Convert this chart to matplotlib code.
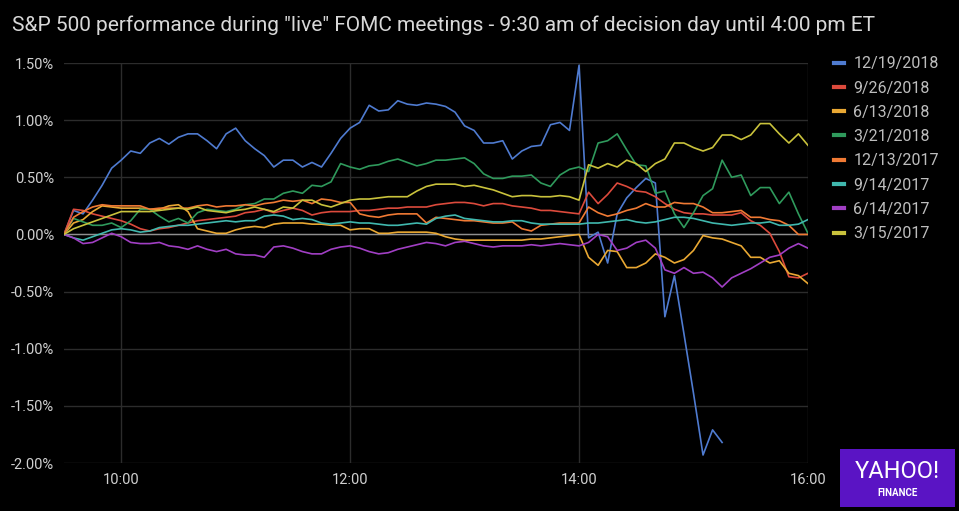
import matplotlib
matplotlib.use("Agg")
import matplotlib.pyplot as plt
import matplotlib.patches as mpatches
import pandas as pd

plt.rcParams["font.family"] = ["Roboto", "DejaVu Sans"]

# 5-minute bars, 9:30 to 16:00 ET
times = pd.date_range("2018-01-01 09:30", "2018-01-01 16:00", freq="5min")
hours = times.hour + times.minute / 60.0

labels = ["12/19/2018", "9/26/2018", "6/13/2018", "3/21/2018",
          "12/13/2017", "9/14/2017", "6/14/2017", "3/15/2017"]
colors = ["#4f7bd0", "#dc4a3c", "#e9a833", "#2f9a5c",
          "#f07a34", "#40b8ae", "#a13fc4", "#c9c23c"]

# % change from 9:30 open
dec_2018 = [
    0.00, 0.21, 0.18, 0.30, 0.43, 0.58, 0.65, 0.73, 0.71, 0.80,
    0.84, 0.79, 0.85, 0.88, 0.88, 0.82, 0.75, 0.88, 0.93, 0.82,
    0.75, 0.69, 0.59, 0.65, 0.65, 0.59, 0.63, 0.59, 0.71, 0.84,
    0.93, 0.98, 1.13, 1.08, 1.09, 1.17, 1.14, 1.13, 1.15, 1.14,
    1.12, 1.07, 0.95, 0.91, 0.80, 0.80, 0.82, 0.66, 0.73, 0.77,
    0.78, 0.96, 0.98, 0.91, 1.48, -0.03, 0.02, -0.25, 0.18, 0.32,
    0.41, 0.49, 0.45, -0.72, -0.36, -0.87, -1.39, -1.93, -1.71, -1.82,
]
sep_2018 = [
    0.00, 0.22, 0.21, 0.18, 0.16, 0.14, 0.12, 0.09, 0.05, 0.03,
    0.05, 0.06, 0.08, 0.10, 0.12, 0.13, 0.14, 0.15, 0.16, 0.19,
    0.20, 0.22, 0.19, 0.21, 0.23, 0.21, 0.17, 0.19, 0.20, 0.20,
    0.20, 0.21, 0.21, 0.22, 0.23, 0.23, 0.24, 0.24, 0.24, 0.26,
    0.27, 0.28, 0.28, 0.27, 0.25, 0.27, 0.27, 0.25, 0.24, 0.23,
    0.21, 0.21, 0.20, 0.19, 0.18, 0.37, 0.27, 0.35, 0.45, 0.42,
    0.38, 0.37, 0.33, 0.27, 0.22, 0.19, 0.18, 0.18, 0.17, 0.17,
    0.17, 0.19, 0.12, 0.08, 0.01, -0.15, -0.37, -0.38, -0.34,
]
jun_2018 = [
    0.00, 0.10, 0.13, 0.20, 0.25, 0.24, 0.23, 0.23, 0.23, 0.22,
    0.22, 0.25, 0.26, 0.20, 0.05, 0.03, 0.01, 0.01, 0.04, 0.06,
    0.07, 0.06, 0.09, 0.10, 0.10, 0.10, 0.09, 0.09, 0.08, 0.08,
    0.04, 0.05, 0.05, 0.01, 0.01, 0.02, 0.02, 0.02, 0.02, 0.01,
    -0.02, -0.04, -0.05, -0.05, -0.05, -0.05, -0.05, -0.05, -0.05, -0.04,
    -0.04, -0.03, -0.02, -0.01, 0.00, -0.20, -0.27, -0.14, -0.15, -0.29,
    -0.29, -0.25, -0.17, -0.20, -0.25, -0.22, -0.14, -0.01, -0.03, -0.04,
    -0.07, -0.10, -0.20, -0.20, -0.25, -0.23, -0.34, -0.36, -0.43,
]
mar_2018 = [
    0.00, 0.14, 0.11, 0.08, 0.08, 0.10, 0.06, 0.12, 0.22, 0.22,
    0.16, 0.11, 0.14, 0.10, 0.19, 0.22, 0.21, 0.20, 0.22, 0.26,
    0.27, 0.31, 0.31, 0.36, 0.38, 0.36, 0.43, 0.42, 0.46, 0.62,
    0.59, 0.57, 0.60, 0.61, 0.64, 0.66, 0.63, 0.60, 0.62, 0.65,
    0.65, 0.66, 0.67, 0.62, 0.53, 0.49, 0.49, 0.51, 0.51, 0.52,
    0.45, 0.42, 0.52, 0.57, 0.59, 0.55, 0.80, 0.82, 0.88, 0.74,
    0.61, 0.60, 0.36, 0.38, 0.18, 0.06, 0.19, 0.34, 0.40, 0.65,
    0.50, 0.52, 0.34, 0.41, 0.41, 0.27, 0.37, 0.18, 0.01,
]
dec_2017 = [
    0.00, 0.15, 0.20, 0.24, 0.26, 0.25, 0.25, 0.25, 0.25, 0.22,
    0.23, 0.23, 0.23, 0.23, 0.25, 0.26, 0.24, 0.25, 0.25, 0.26,
    0.25, 0.27, 0.28, 0.30, 0.29, 0.30, 0.27, 0.31, 0.30, 0.28,
    0.28, 0.18, 0.16, 0.15, 0.17, 0.18, 0.18, 0.18, 0.10, 0.15,
    0.14, 0.13, 0.12, 0.12, 0.11, 0.10, 0.10, 0.11, 0.05, 0.03,
    0.08, 0.09, 0.10, 0.10, 0.10, 0.24, 0.19, 0.16, 0.18, 0.21,
    0.23, 0.27, 0.24, 0.24, 0.28, 0.27, 0.27, 0.24, 0.19, 0.19,
    0.20, 0.21, 0.15, 0.15, 0.13, 0.12, 0.08, 0.00, 0.00,
]
sep_2017 = [
    0.00, -0.03, -0.05, -0.02, 0.01, 0.04, 0.05, 0.04, 0.02, 0.03,
    0.06, 0.07, 0.08, 0.08, 0.09, 0.10, 0.11, 0.12, 0.11, 0.12,
    0.12, 0.16, 0.17, 0.16, 0.13, 0.14, 0.13, 0.10, 0.09, 0.10,
    0.11, 0.10, 0.10, 0.09, 0.08, 0.08, 0.09, 0.10, 0.09, 0.14,
    0.16, 0.17, 0.14, 0.13, 0.12, 0.11, 0.11, 0.12, 0.12, 0.10,
    0.09, 0.09, 0.09, 0.09, 0.09, 0.10, 0.10, 0.11, 0.12, 0.13,
    0.11, 0.10, 0.11, 0.13, 0.15, 0.15, 0.14, 0.12, 0.10, 0.09,
    0.08, 0.09, 0.10, 0.10, 0.11, 0.08, 0.08, 0.09, 0.13,
]
jun_2017 = [
    0.00, -0.03, -0.08, -0.07, -0.03, 0.01, -0.02, -0.07, -0.08, -0.08,
    -0.07, -0.10, -0.11, -0.13, -0.10, -0.13, -0.15, -0.13, -0.17, -0.18,
    -0.18, -0.20, -0.11, -0.10, -0.12, -0.15, -0.17, -0.17, -0.13, -0.11,
    -0.10, -0.12, -0.15, -0.17, -0.16, -0.13, -0.11, -0.09, -0.07, -0.08,
    -0.10, -0.07, -0.06, -0.08, -0.10, -0.11, -0.10, -0.10, -0.10, -0.09,
    -0.10, -0.09, -0.08, -0.09, -0.10, -0.07, 0.00, -0.02, -0.14, -0.12,
    -0.07, -0.05, -0.12, -0.31, -0.34, -0.29, -0.34, -0.33, -0.38, -0.46,
    -0.38, -0.34, -0.30, -0.25, -0.20, -0.18, -0.12, -0.08, -0.12,
]
mar_2017 = [
    0.00, 0.05, 0.08, 0.11, 0.14, 0.17, 0.20, 0.20, 0.20, 0.20,
    0.21, 0.22, 0.23, 0.22, 0.24, 0.21, 0.20, 0.19, 0.21, 0.22,
    0.24, 0.22, 0.20, 0.24, 0.23, 0.30, 0.30, 0.26, 0.24, 0.27,
    0.30, 0.31, 0.31, 0.32, 0.33, 0.33, 0.33, 0.38, 0.42, 0.44,
    0.44, 0.44, 0.42, 0.43, 0.41, 0.39, 0.36, 0.33, 0.34, 0.34,
    0.33, 0.33, 0.34, 0.33, 0.30, 0.61, 0.58, 0.62, 0.59, 0.65,
    0.62, 0.55, 0.62, 0.66, 0.80, 0.80, 0.76, 0.73, 0.76, 0.87,
    0.87, 0.83, 0.87, 0.97, 0.97, 0.88, 0.80, 0.88, 0.78,
]
series = [dec_2018, sep_2018, jun_2018, mar_2018,
          dec_2017, sep_2017, jun_2017, mar_2017]

fig = plt.figure(figsize=(9.59, 5.11), dpi=100, facecolor="black")
ax = fig.add_axes([0.0667, 0.0939, 0.7758, 0.7828], facecolor="black")

for vals, color, label in zip(series, colors, labels):
    ax.plot(hours[:len(vals)], vals, color=color, linewidth=1.2, label=label)

ax.set_xlim(9.5, 16)
ax.set_ylim(-2.0, 1.5)
ax.set_xticks([10, 12, 14, 16])
ax.set_xticklabels(["10:00", "12:00", "14:00", "16:00"])
ax.set_yticks([1.5, 1.0, 0.5, 0.0, -0.5, -1.0, -1.5, -2.0])
ax.set_yticklabels(["1.50%", "1.00%", "0.50%", "0.00%",
                    "-0.50%", "-1.00%", "-1.50%", "-2.00%"])
ax.grid(True, color="#2c2c2c", linewidth=1.0)
ax.set_axisbelow(True)
ax.axhline(0, color="#8f8f8f", linewidth=1.0, zorder=1)
for side in ax.spines.values():
    side.set_visible(False)
ax.tick_params(colors="#d0d0d0", labelsize=10.5, length=0, pad=7)

fig.text(0.0125, 0.951, 'S&P 500 performance during "live" FOMC meetings - 9:30 am of decision day until 4:00 pm ET',
         color="#d8d8d8", fontsize=15, va="center", ha="left")

leg = ax.legend(loc="upper left", bbox_to_anchor=(0.855, 0.918),
                bbox_transform=fig.transFigure, frameon=False,
                handlelength=0.6, handletextpad=0.6, labelspacing=0.58,
                fontsize=11.5, labelcolor="#bdbdbd")
for line in leg.get_lines():
    line.set_linewidth(3)

# Yahoo Finance badge
fig.patches.append(mpatches.Rectangle((0.876, 0.008), 0.12, 0.113,
                                      transform=fig.transFigure,
                                      facecolor="#5a14c4", edgecolor="none"))
fig.text(0.936, 0.078, "YAHOO!", color="white", fontsize=17, ha="center",
         va="center")
fig.text(0.936, 0.036, "FINANCE", color="white", fontsize=7, ha="center",
         va="center", fontweight="bold")

fig.savefig("out.png", dpi=100, facecolor="black")
